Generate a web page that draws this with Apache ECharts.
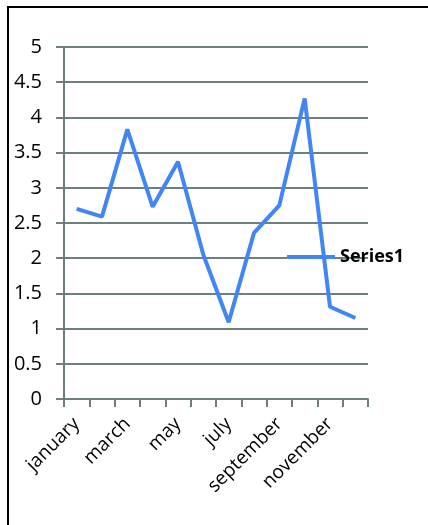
<!DOCTYPE html>
<html>
<head>
<meta charset="utf-8">
<script src="https://cdn.jsdelivr.net/npm/echarts@6/dist/echarts.min.js"></script>
<style>
  html, body { margin: 0; padding: 0; background: #fff; }
  #chart { width: 428px; height: 525px; }
</style>
</head>
<body>
<div id="chart"></div>
<script>
// Monthly values for the single series
const months = ['january', 'february', 'march', 'april', 'may', 'june',
                'july', 'august', 'september', 'october', 'november', 'december'];
const series1 = [2.70, 2.59, 3.83, 2.73, 3.37, 2.05, 1.09, 2.36, 2.75, 4.27, 1.31, 1.15];
const seriesName = 'Series1';
const yTicks = { min: 0, max: 5, step: 0.5 };

const gridColor = '#6f7f7f';
const lineColor = '#4285f4';
const fontFamily = '"Open Sans", "Liberation Sans", sans-serif';

const chart = echarts.init(document.getElementById('chart'), null, { renderer: 'canvas' });

chart.setOption({
  animation: false,
  backgroundColor: '#fff',
  graphic: [{
    type: 'rect',
    shape: { x: 8, y: 7, width: 440, height: 540 },
    style: { fill: 'none', stroke: '#000', lineWidth: 2 },
    silent: true
  }],
  grid: { left: 64, right: 60, top: 47, bottom: 126 },
  legend: {
    data: [seriesName],
    left: 287,
    top: 248,
    padding: 0,
    icon: 'rect',
    itemWidth: 48,
    itemHeight: 4,
    itemGap: 5,
    textStyle: { color: '#000', fontSize: 18, fontWeight: 'bold', fontFamily: fontFamily }
  },
  xAxis: {
    type: 'category',
    data: months,
    boundaryGap: true,
    axisLine: { show: true, lineStyle: { color: gridColor, width: 2 } },
    axisTick: { show: true, interval: 0, length: 8, lineStyle: { color: gridColor, width: 2 } },
    axisLabel: {
      interval: 1,
      rotate: 45,
      margin: 22,
      color: '#000',
      fontSize: 19,
      fontFamily: fontFamily
    },
    splitLine: { show: false }
  },
  yAxis: {
    type: 'value',
    min: yTicks.min,
    max: yTicks.max,
    interval: yTicks.step,
    axisLine: { show: true, lineStyle: { color: gridColor, width: 2 } },
    axisTick: { show: true, length: 8, lineStyle: { color: gridColor, width: 2 } },
    axisLabel: {
      margin: 22,
      color: '#000',
      fontSize: 20,
      fontFamily: fontFamily,
      formatter: v => String(v)
    },
    splitLine: { show: true, lineStyle: { color: gridColor, width: 2 } }
  },
  series: [{
    name: seriesName,
    type: 'line',
    data: series1,
    showSymbol: false,
    symbol: 'none',
    lineStyle: { color: lineColor, width: 4 },
    itemStyle: { color: lineColor }
  }]
});
</script>
</body>
</html>
